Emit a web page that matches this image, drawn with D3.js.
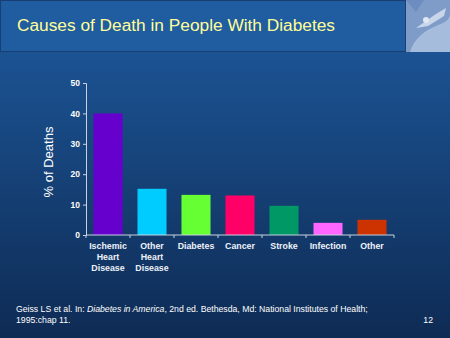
<!DOCTYPE html>
<html>
<head>
<meta charset="utf-8">
<script src="https://cdn.jsdelivr.net/npm/d3@7"></script>
<style>
  body { margin: 0; background: #123466; }
  svg { display: block; font-family: "Liberation Sans", Arial, sans-serif; }
</style>
</head>
<body>
<svg id="chart"></svg>
<script>
const categories = [
  ["Ischemic", "Heart", "Disease"],
  ["Other", "Heart", "Disease"],
  ["Diabetes"],
  ["Cancer"],
  ["Stroke"],
  ["Infection"],
  ["Other"]
];
const percentDeaths = [40, 15.2, 13.2, 13, 9.6, 4, 5];
const barColors = ["#6600cc", "#00ccff", "#66ff33", "#ff0066", "#009966", "#ff66ff", "#cc3300"];
const yTicks = [0, 10, 20, 30, 40, 50];

const W = 450, H = 338;
const svg = d3.select("#chart").attr("width", W).attr("height", H);

// background gradient
const defs = svg.append("defs");
const grad = defs.append("linearGradient").attr("id", "bg")
  .attr("x1", 0).attr("y1", 0).attr("x2", 0).attr("y2", 1);
grad.append("stop").attr("offset", "0%").attr("stop-color", "#1e5a9e");
grad.append("stop").attr("offset", "100%").attr("stop-color", "#0e2b54");
svg.append("rect").attr("width", W).attr("height", H).attr("fill", "url(#bg)");

// header band
svg.append("rect").attr("x", 0.5).attr("y", 0.5).attr("width", 405).attr("height", 51)
  .attr("fill", "#1f5ca0").attr("stroke", "#173f73");
svg.append("text").attr("x", 17).attr("y", 31)
  .attr("fill", "#ffff99").style("font-size", "17.3px")
  .text("Causes of Death in People With Diabetes");

// corner picture (stand-in)
const pic = svg.append("g").attr("transform", "translate(406,0)");
pic.append("rect").attr("width", 44).attr("height", 52).attr("fill", "#7f9cc8");
pic.append("path").attr("d", "M4,52 C8,38 20,30 30,26 C38,23 44,20 44,14 L44,52 Z").attr("fill", "#a6bcdc");
pic.append("path").attr("d", "M10,28 L30,14 L40,8 L38,16 L22,26 Z").attr("fill", "#c9d6ea");
pic.append("circle").attr("cx", 20).attr("cy", 20).attr("r", 3).attr("fill", "#e0e8f4");
pic.append("path").attr("d", "M0,0 L18,0 L10,12 Z").attr("fill", "#6d8cc0");

// chart
const x = d3.scaleBand().domain(d3.range(categories.length))
  .range([86, 394]).paddingInner(0.34).paddingOuter(0.17);
const y = d3.scaleLinear().domain([0, 50]).range([235, 83]);

const g = svg.append("g");
g.selectAll(".bar").data(percentDeaths).enter().append("rect")
  .attr("class", "bar")
  .attr("x", (d, i) => x(i))
  .attr("width", x.bandwidth())
  .attr("y", d => y(d))
  .attr("height", d => y(0) - y(d))
  .attr("fill", (d, i) => barColors[i]);

const axisColor = "#c8d2e0";
const yAxis = g.append("g").attr("transform", "translate(86,0)")
  .call(d3.axisLeft(y).tickValues(yTicks).tickSize(3).tickPadding(3));
yAxis.select(".domain").attr("stroke", axisColor);
yAxis.selectAll(".tick line").attr("stroke", axisColor);
yAxis.selectAll(".tick text").attr("fill", "#ffffff")
  .style("font-size", "8.5px").style("font-weight", "bold");

const xAxis = g.append("g").attr("transform", `translate(0,${y(0)})`);
xAxis.append("line").attr("x1", 86).attr("x2", 394)
  .attr("stroke", axisColor);
xAxis.selectAll(".sep").data(d3.range(categories.length + 1)).enter().append("line")
  .attr("class", "sep")
  .attr("x1", i => 86 + i * x.step()).attr("x2", i => 86 + i * x.step())
  .attr("y1", 0).attr("y2", 3).attr("stroke", axisColor);

const labels = xAxis.selectAll(".cat").data(categories).enter().append("text")
  .attr("class", "cat")
  .attr("text-anchor", "middle")
  .attr("fill", "#eef2f8")
  .style("font-size", "8.8px").style("font-weight", "bold");
labels.selectAll("tspan").data((d, i) => d.map(t => ({ t, i }))).enter().append("tspan")
  .attr("x", d => x(d.i) + x.bandwidth() / 2)
  .attr("y", (d, j) => 13.5 + j * 11)
  .text(d => d.t);

svg.append("text")
  .attr("transform", "translate(53,162) rotate(-90)")
  .attr("text-anchor", "middle")
  .attr("fill", "#ffffff").style("font-size", "13px")
  .text("% of Deaths");

// footnote
const foot = svg.append("text").attr("x", 16).attr("y", 312)
  .attr("fill", "#ffffff").style("font-size", "8.7px");
foot.append("tspan").text("Geiss LS et al. In: ");
foot.append("tspan").style("font-style", "italic").text("Diabetes in America");
foot.append("tspan").text(", 2nd ed. Bethesda, Md: National Institutes of Health;");
svg.append("text").attr("x", 16).attr("y", 323)
  .attr("fill", "#ffffff").style("font-size", "8.7px").text("1995:chap 11.");
svg.append("text").attr("x", 433).attr("y", 323).attr("text-anchor", "end")
  .attr("fill", "#ffffff").style("font-size", "8.7px").text("12");
</script>
</body>
</html>
